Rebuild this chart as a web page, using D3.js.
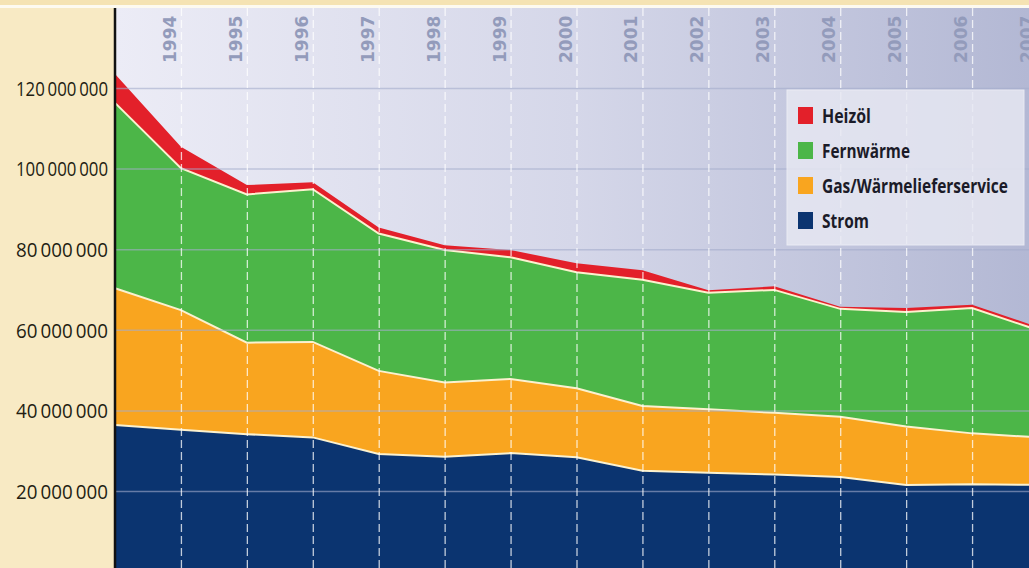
<!DOCTYPE html>
<html>
<head>
<meta charset="utf-8">
<script src="https://cdn.jsdelivr.net/npm/d3@7"></script>
<style>
  html, body { margin: 0; padding: 0; background: #fff; }
  svg { display: block; }
</style>
</head>
<body>
<div id="chart"></div>
<script>
// data (values in millions)
var years = [1993, 1994, 1995, 1996, 1997, 1998, 1999, 2000, 2001, 2002, 2003, 2004, 2005, 2006, 2007];
var strom = [36.4, 35.2, 34.1, 33.3, 29.2, 28.5, 29.4, 28.4, 25.0, 24.5, 24.1, 23.5, 21.5, 21.7, 21.5];
var gas = [33.9, 29.7, 22.7, 23.7, 20.6, 18.4, 18.4, 17.1, 16.1, 15.8, 15.3, 14.9, 14.5, 12.6, 11.8];
var fernwaerme = [46.0, 35.2, 36.8, 37.9, 34.1, 32.9, 30.2, 28.8, 31.3, 28.9, 30.5, 26.8, 28.4, 31.1, 26.6];
var heizoel = [7.2, 5.3, 2.3, 1.7, 1.5, 1.2, 1.8, 2.2, 2.4, 0.6, 0.9, 0.5, 1.0, 0.8, 0.8];
var seriesKeys = ["Strom", "Gas/Wärmelieferservice", "Fernwärme", "Heizöl"];
var legendOrder = ["Heizöl", "Fernwärme", "Gas/Wärmelieferservice", "Strom"];
var yTicks = [20e6, 40e6, 60e6, 80e6, 100e6, 120e6];

var colors = {
  "Strom": "#0b3470",
  "Gas/Wärmelieferservice": "#f9a51f",
  "Fernwärme": "#4cb648",
  "Heizöl": "#e3202a"
};

var svgWidth = 1029, svgHeight = 568;
var plotLeft = 116, plotTop = 8;

var rows = years.map(function (y, i) {
  return {
    year: y,
    "Strom": strom[i] * 1e6,
    "Gas/Wärmelieferservice": gas[i] * 1e6,
    "Fernwärme": fernwaerme[i] * 1e6,
    "Heizöl": heizoel[i] * 1e6
  };
});

var svg = d3.select("#chart").append("svg")
  .attr("width", svgWidth)
  .attr("height", svgHeight);

var defs = svg.append("defs");
var grad = defs.append("linearGradient").attr("id", "plotbg")
  .attr("x1", "0").attr("y1", "0").attr("x2", "1").attr("y2", "0");
grad.append("stop").attr("offset", "0").attr("stop-color", "#ececf6");
grad.append("stop").attr("offset", "0.5").attr("stop-color", "#d5d7e9");
grad.append("stop").attr("offset", "1").attr("stop-color", "#b3b8d4");

// background panels
svg.append("rect").attr("x", 0).attr("y", 0).attr("width", svgWidth).attr("height", svgHeight).attr("fill", "#f8eac4");
svg.append("rect").attr("x", 0).attr("y", 0).attr("width", svgWidth).attr("height", 5).attr("fill", "#f5e3b3");
svg.append("rect").attr("x", 0).attr("y", 5).attr("width", svgWidth).attr("height", 3).attr("fill", "#fdfaf0");
svg.append("rect").attr("x", plotLeft).attr("y", plotTop)
  .attr("width", svgWidth - plotLeft).attr("height", svgHeight - plotTop)
  .attr("fill", "url(#plotbg)");

var xScale = d3.scaleLinear().domain([1993, 2007]).range([115, 1038]);
var yScale = d3.scaleLinear().domain([0, 140e6]).range([571.6, 7.4]);

var stack = d3.stack().keys(seriesKeys);
var layers = stack(rows);

var plot = svg.append("g");

var area = d3.area()
  .x(function (d) { return xScale(d.data.year); })
  .y0(function (d) { return yScale(d[0]); })
  .y1(function (d) { return yScale(d[1]); });

plot.selectAll(".layer")
  .data(layers)
  .enter()
  .append("path")
  .attr("class", "layer")
  .attr("fill", function (d) { return colors[d.key]; })
  .attr("d", area);

// pale separator lines on top of the lower layers
var topLine = d3.line()
  .x(function (d) { return xScale(d.data.year); })
  .y(function (d) { return yScale(d[1]); });

plot.selectAll(".sep")
  .data(layers.slice(0, 3))
  .enter()
  .append("path")
  .attr("class", "sep")
  .attr("fill", "none")
  .attr("stroke", "#fbf1cf")
  .attr("stroke-width", 2)
  .attr("d", topLine);

// horizontal grid
svg.append("g")
  .attr("transform", "translate(" + plotLeft + ",0)")
  .call(d3.axisRight(yScale).tickValues(yTicks).tickSize(svgWidth - plotLeft).tickFormat(""))
  .call(function (g) {
    g.select(".domain").remove();
    g.selectAll("line").attr("stroke", "#a3abcc").attr("stroke-width", 1.5).attr("opacity", 0.6);
  });

// vertical dashed lines
svg.append("g")
  .attr("transform", "translate(0," + plotTop + ")")
  .call(d3.axisBottom(xScale).tickValues(years.slice(1)).tickSize(svgHeight - plotTop).tickFormat(""))
  .call(function (g) {
    g.select(".domain").remove();
    g.selectAll("line").attr("stroke", "#ffffff").attr("stroke-width", 1.3)
      .attr("stroke-dasharray", "8,4").attr("opacity", 0.75);
  });

// legend
var legend = svg.append("g").attr("transform", "translate(787,90)");
legend.append("rect")
  .attr("width", 237).attr("height", 155)
  .attr("fill", "#e8e9f3").attr("opacity", 0.82)
  .attr("stroke", "#f4f4fa").attr("stroke-width", 1);

var legendWidths = { "Heizöl": 49, "Fernwärme": 88, "Gas/Wärmelieferservice": 186, "Strom": 47 };

var items = legend.selectAll(".item")
  .data(legendOrder)
  .enter()
  .append("g")
  .attr("class", "item")
  .attr("transform", function (d, i) { return "translate(0," + (26 + i * 35) + ")"; });

items.append("rect")
  .attr("x", 11).attr("y", -9)
  .attr("width", 15).attr("height", 17)
  .attr("fill", function (d) { return colors[d]; });

items.append("text")
  .attr("x", 35).attr("y", 0).attr("dy", "0.35em")
  .attr("font-family", "'Open Sans', sans-serif")
  .attr("font-weight", "bold")
  .attr("font-size", 19)
  .attr("fill", "#1b1b28")
  .attr("textLength", function (d) { return legendWidths[d]; })
  .attr("lengthAdjust", "spacingAndGlyphs")
  .text(function (d) { return d; });

// y axis labels
var de = d3.formatLocale({ decimal: ",", thousands: "\u2009", grouping: [3], currency: ["", ""] });
var fmt = de.format(",d");

svg.append("g")
  .attr("class", "axis")
  .attr("transform", "translate(108,0)")
  .call(d3.axisLeft(yScale).tickValues(yTicks).tickSize(0).tickPadding(0).tickFormat(fmt))
  .call(function (g) {
    g.select(".domain").remove();
    g.selectAll("text")
      .attr("font-family", "'Open Sans', sans-serif")
      .attr("font-size", 20)
      .attr("fill", "#231d12")
      .attr("dy", "0.36em")
      .attr("textLength", 92)
      .attr("lengthAdjust", "spacingAndGlyphs");
  });

// x axis labels (rotated)
svg.append("g")
  .attr("class", "axis")
  .attr("transform", "translate(0," + plotTop + ")")
  .call(d3.axisTop(xScale).tickValues(years.slice(1)).tickSize(0).tickPadding(0).tickFormat(d3.format("d")))
  .call(function (g) {
    g.select(".domain").remove();
    g.selectAll("text")
      .attr("transform", "rotate(-90)")
      .attr("x", -55).attr("y", -5.5).attr("dy", 0)
      .attr("text-anchor", "start")
      .attr("font-family", "'DejaVu Sans', sans-serif")
      .attr("font-weight", "bold")
      .attr("font-size", 17)
      .attr("fill", "#939bbb");
  });

// y axis line
svg.append("line")
  .attr("x1", 115).attr("x2", 115)
  .attr("y1", plotTop).attr("y2", svgHeight)
  .attr("stroke", "#111").attr("stroke-width", 2.5);
</script>
</body>
</html>
